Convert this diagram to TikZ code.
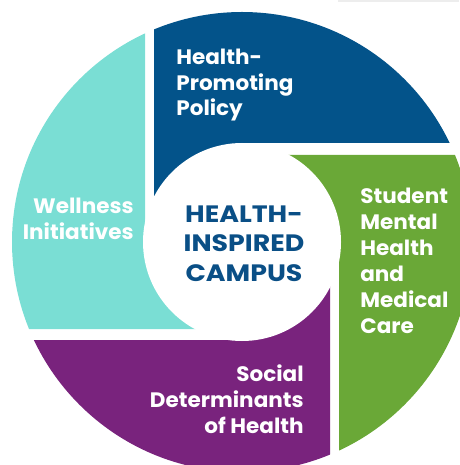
\documentclass[tikz,border=0pt]{standalone}
\usepackage{fontspec}
\setmainfont{Poppins}
\newfontfamily\segfont[FakeStretch=1.03]{Poppins}
\newfontfamily\hubfont[FakeStretch=1.13]{Poppins}
\usepackage{tikz}
\definecolor{policyblue}{HTML}{03538A}
\definecolor{caregreen}{HTML}{6AA837}
\definecolor{socialpurple}{HTML}{79237D}
\definecolor{wellteal}{HTML}{7ADED4}
\definecolor{campusblue}{HTML}{0A4F86}
\tikzset{
  seglabel/.style={text=white,inner sep=0pt,font=\segfont\bfseries\fontsize{11.9}{14.7}\selectfont},
  hublabel/.style={text=campusblue,inner sep=0pt,align=center,font=\hubfont\bfseries\fontsize{13.5}{16.7}\selectfont}
}
\begin{document}
\begin{tikzpicture}[x=0.02cm,y=-0.02cm]
          \useasboundingbox (0,0) rectangle (459,465);
          \fill[black!7] (338,0) rectangle (459,2);% strip at the top
          \begin{scope}
          \clip (242,242) circle (230);
          \fill[policyblue] (154,0) -- (480,0) -- (480,143) -- (242,143) -- (242,242) -- (154,242) -- cycle;       % Policy
          \fill[caregreen] (242,155) -- (480,155) -- (480,480) -- (339,480) -- (339,242) -- (242,242) -- cycle;   % Care
          \fill[socialpurple] (330,242) -- (330,480) -- (0,480) -- (0,340) -- (242,340) -- (242,242) -- cycle;   % Social
          \fill[wellteal] (0,0) -- (145,0) -- (145,242) -- (242,242) -- (242,329) -- (0,329) -- cycle;           % Wellness
          \end{scope}
          \fill[white] (242,242) circle (99);% hub
          % anchors sit on the baseline of the last line
          \node[seglabel,align=left,anchor=base west] (policy) at (176,116) {Health-\\Promoting\\Policy};
          \node[seglabel,align=right,anchor=base east] (wellness) at (134,239) {Wellness\\Initiatives};
          \node[seglabel,align=left,anchor=base west] (care) at (360,333) {Student\\Mental\\Health\\and\\Medical\\Care};
          \node[seglabel,align=right,anchor=base east] (social) at (304,433) {Social\\Determinants\\of Health};
          \node[hublabel,anchor=base] (campus) at (244,281) {HEALTH-\\INSPIRED\\CAMPUS};
        \end{tikzpicture}
\end{document}
